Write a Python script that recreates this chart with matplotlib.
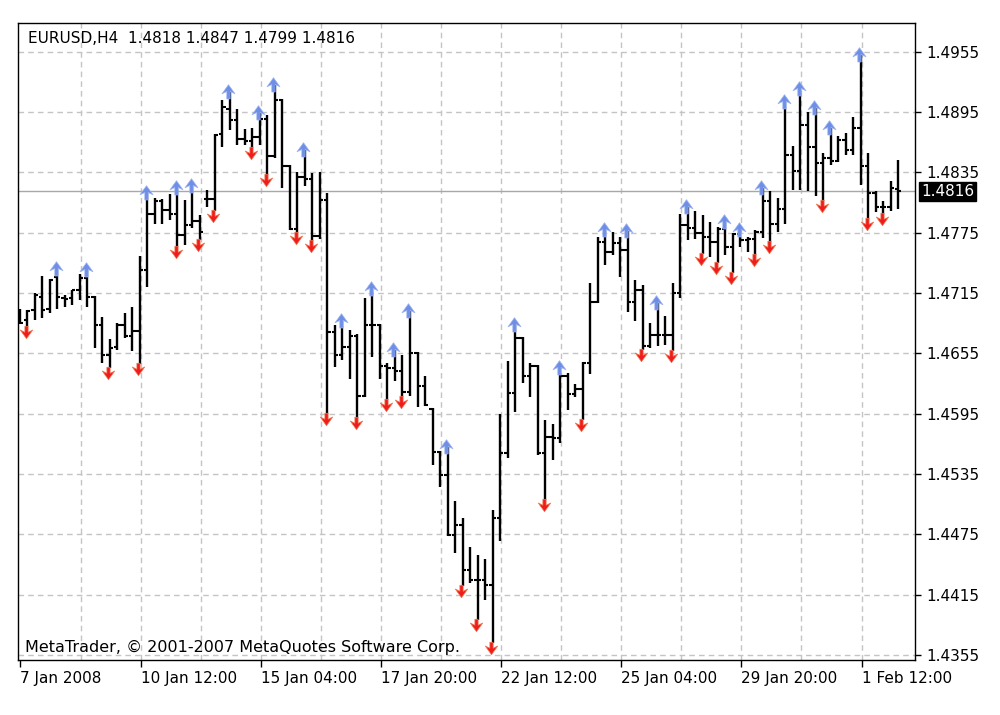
import numpy as np
import matplotlib
matplotlib.use("Agg")
import matplotlib.pyplot as plt
from matplotlib.path import Path
from matplotlib.markers import MarkerStyle
import matplotlib.transforms as mtransforms

# ---------------- data (EURUSD H4 bars) ----------------
opens = [1.4692, 1.4688, 1.4698, 1.4711, 1.4699, 1.4731, 1.4710, 1.4710, 1.4718, 1.4730,
         1.4711, 1.4683, 1.4653, 1.4661, 1.4683, 1.4672, 1.4677, 1.4738, 1.4794, 1.4806,
         1.4798, 1.4794, 1.4773, 1.4783, 1.4787, 1.4808, 1.4808, 1.4873, 1.4898, 1.4887,
         1.4868, 1.4866, 1.4870, 1.4888, 1.4851, 1.4907, 1.4841, 1.4779, 1.4830, 1.4828,
         1.4772, 1.4807, 1.4676, 1.4653, 1.4661, 1.4672, 1.4613, 1.4683, 1.4683, 1.4642,
         1.4640, 1.4637, 1.4617, 1.4655, 1.4622, 1.4600, 1.4557, 1.4534, 1.4474, 1.4484,
         1.4440, 1.4430, 1.4430, 1.4425, 1.4491, 1.4556, 1.4616, 1.4670, 1.4632, 1.4642,
         1.4556, 1.4572, 1.4571, 1.4632, 1.4615, 1.4620, 1.4645, 1.4706, 1.4766, 1.4756,
         1.4765, 1.4758, 1.4706, 1.4718, 1.4662, 1.4673, 1.4673, 1.4673, 1.4715, 1.4783,
         1.4780, 1.4775, 1.4771, 1.4766, 1.4779, 1.4761, 1.4774, 1.4768, 1.4769, 1.4776,
         1.4806, 1.4784, 1.4799, 1.4852, 1.4836, 1.4882, 1.4860, 1.4844, 1.4849, 1.4846,
         1.4867, 1.4857, 1.4879, 1.4841, 1.4814, 1.4801, 1.4801, 1.4818]
highs = [1.4699, 1.4698, 1.4715, 1.4732, 1.4729, 1.4739, 1.4713, 1.4718, 1.4734, 1.4738,
         1.4712, 1.4691, 1.4669, 1.4685, 1.4695, 1.4701, 1.4752, 1.4814, 1.4809, 1.4808,
         1.4813, 1.4819, 1.4807, 1.4821, 1.4793, 1.4817, 1.4873, 1.4907, 1.4915, 1.4898,
         1.4878, 1.4879, 1.4894, 1.4892, 1.4922, 1.4908, 1.4842, 1.4835, 1.4857, 1.4834,
         1.4835, 1.4814, 1.4683, 1.4687, 1.4678, 1.4674, 1.4710, 1.4719, 1.4684, 1.4645,
         1.4658, 1.4653, 1.4697, 1.4656, 1.4632, 1.4601, 1.4558, 1.4562, 1.4508, 1.4491,
         1.4462, 1.4454, 1.4450, 1.4499, 1.4595, 1.4647, 1.4683, 1.4671, 1.4645, 1.4643,
         1.4589, 1.4585, 1.4640, 1.4635, 1.4624, 1.4646, 1.4725, 1.4771, 1.4778, 1.4776,
         1.4771, 1.4777, 1.4728, 1.4723, 1.4685, 1.4705, 1.4692, 1.4725, 1.4794, 1.4801,
         1.4797, 1.4793, 1.4786, 1.4781, 1.4786, 1.4775, 1.4778, 1.4771, 1.4778, 1.4819,
         1.4816, 1.4809, 1.4905, 1.4861, 1.4918, 1.4895, 1.4899, 1.4854, 1.4879, 1.4871,
         1.4874, 1.4890, 1.4952, 1.4854, 1.4816, 1.4806, 1.4826, 1.4847]
lows = [1.4684, 1.4681, 1.4688, 1.4690, 1.4695, 1.4699, 1.4701, 1.4703, 1.4708, 1.4701,
        1.4660, 1.4645, 1.4640, 1.4658, 1.4670, 1.4657, 1.4644, 1.4721, 1.4784, 1.4784,
        1.4788, 1.4761, 1.4763, 1.4780, 1.4768, 1.4801, 1.4797, 1.4860, 1.4877, 1.4862,
        1.4862, 1.4859, 1.4862, 1.4832, 1.4849, 1.4819, 1.4778, 1.4775, 1.4821, 1.4767,
        1.4769, 1.4595, 1.4641, 1.4648, 1.4629, 1.4591, 1.4612, 1.4651, 1.4629, 1.4609,
        1.4627, 1.4612, 1.4613, 1.4602, 1.4603, 1.4544, 1.4522, 1.4473, 1.4456, 1.4424,
        1.4427, 1.4390, 1.4410, 1.4367, 1.4468, 1.4551, 1.4597, 1.4625, 1.4612, 1.4554,
        1.4509, 1.4549, 1.4566, 1.4599, 1.4612, 1.4589, 1.4634, 1.4705, 1.4743, 1.4753,
        1.4731, 1.4696, 1.4687, 1.4658, 1.4660, 1.4662, 1.4663, 1.4657, 1.4710, 1.4768,
        1.4769, 1.4754, 1.4751, 1.4745, 1.4753, 1.4735, 1.4761, 1.4756, 1.4753, 1.4770,
        1.4766, 1.4776, 1.4784, 1.4817, 1.4817, 1.4816, 1.4811, 1.4806, 1.4842, 1.4845,
        1.4852, 1.4852, 1.4822, 1.4789, 1.4796, 1.4794, 1.4797, 1.4799]
closes = [1.4685, 1.4697, 1.4713, 1.4698, 1.4728, 1.4711, 1.4709, 1.4718, 1.4730, 1.4711,
          1.4683, 1.4653, 1.4660, 1.4683, 1.4672, 1.4677, 1.4738, 1.4794, 1.4806, 1.4798,
          1.4794, 1.4773, 1.4783, 1.4787, 1.4776, 1.4808, 1.4872, 1.4900, 1.4887, 1.4868,
          1.4866, 1.4870, 1.4888, 1.4851, 1.4907, 1.4841, 1.4779, 1.4830, 1.4828, 1.4772,
          1.4807, 1.4676, 1.4653, 1.4661, 1.4672, 1.4613, 1.4683, 1.4683, 1.4642, 1.4640,
          1.4637, 1.4617, 1.4655, 1.4622, 1.4604, 1.4557, 1.4534, 1.4474, 1.4484, 1.4440,
          1.4430, 1.4430, 1.4425, 1.4491, 1.4556, 1.4616, 1.4670, 1.4632, 1.4642, 1.4556,
          1.4572, 1.4571, 1.4632, 1.4615, 1.4620, 1.4645, 1.4706, 1.4766, 1.4756, 1.4765,
          1.4758, 1.4706, 1.4718, 1.4662, 1.4673, 1.4673, 1.4673, 1.4715, 1.4783, 1.4780,
          1.4775, 1.4771, 1.4766, 1.4779, 1.4761, 1.4774, 1.4768, 1.4769, 1.4776, 1.4806,
          1.4784, 1.4799, 1.4852, 1.4836, 1.4882, 1.4860, 1.4844, 1.4849, 1.4846, 1.4867,
          1.4857, 1.4879, 1.4841, 1.4814, 1.4801, 1.4801, 1.4819, 1.4816]

# fractal bars (1-based bar numbers)
fractal_up = [6, 10, 18, 22, 24, 29, 33, 35, 39, 44, 48, 51, 53, 58, 67, 73, 79, 82,
              86, 90, 95, 97, 100, 103, 105, 107, 109, 113]
fractal_down = [2, 13, 17, 22, 25, 27, 32, 34, 38, 40, 42, 46, 50, 52, 60, 62, 64, 71,
                76, 84, 88, 92, 94, 96, 99, 101, 108, 114, 116]

price_levels = [1.4355, 1.4415, 1.4475, 1.4535, 1.4595, 1.4655, 1.4715, 1.4775,
                1.4835, 1.4895, 1.4955]
time_tick_bars = [0, 16, 32, 48, 64, 80, 96, 112]
time_tick_labels = ["7 Jan 2008", "10 Jan 12:00", "15 Jan 04:00", "17 Jan 20:00",
                    "22 Jan 12:00", "25 Jan 04:00", "29 Jan 20:00", "1 Feb 12:00"]
grid_bars = [8, 16, 24, 32, 40, 48, 56, 64, 72, 80, 88, 96, 104, 112]
current_price = 1.4816
title_text = "EURUSD,H4  1.4818 1.4847 1.4799 1.4816"
copyright_text = "MetaTrader, \u00a9 2001-2007 MetaQuotes Software Corp."

# ---------------- figure ----------------
plt.rcParams['font.family'] = ['DejaVu Sans']
fig = plt.figure(figsize=(10, 7.15), dpi=100)
W, H = 1000, 715
ax = fig.add_axes([18 / W, 1 - 660 / H, (915 - 18) / W, (660 - 23) / H])
ax.set_xlim(-0.2, 119.25)
ax.set_ylim(1.4350, 1.49835)

x = np.arange(len(opens))
o = np.array(opens); h = np.array(highs); l = np.array(lows); c = np.array(closes)

# grid
grid_col = '#c4c4c4'
for lv in price_levels:
    ax.axhline(lv, color=grid_col, lw=1.0, dashes=(4, 3), zorder=0)
for gb in grid_bars:
    ax.axvline(gb + 0.13, color=grid_col, lw=1.0, dashes=(4, 3), zorder=0)

# current price line
ax.axhline(current_price, color='#a8a8a8', lw=1.0, zorder=1)

# bars
ax.vlines(x, l, h, color='black', lw=1.7, zorder=3)
ax.hlines(o, x - 0.45, x, color='black', lw=1.5, zorder=3)
ax.hlines(c, x, x + 0.45, color='black', lw=1.5, zorder=3)

# fractal arrows
up_verts = [(0, 6), (5, -1), (1.3, 0.8), (1.3, -5), (-1.3, -5), (-1.3, 0.8), (-5, -1), (0, 6)]
up_path = Path(up_verts, [Path.MOVETO] + [Path.LINETO] * 6 + [Path.CLOSEPOLY])
dn_verts = [(0, -9), (5, -2), (1.3, -3.8), (1.3, 1), (-1.3, 1), (-1.3, -3.8), (-5, -2), (0, -9)]
dn_path = Path(dn_verts, [Path.MOVETO] + [Path.LINETO] * 6 + [Path.CLOSEPOLY])

ui = np.array(fractal_up) - 1
di = np.array(fractal_down) - 1
ax.scatter(ui - 0.2, h[ui], marker=MarkerStyle(up_path), s=(1.3 * 2 * 6 / 1.389) ** 2,
           color='#6f8fe6', edgecolors='#9db4f0', linewidths=0.5, zorder=4)
ax.scatter(di - 0.2, l[di], marker=MarkerStyle(dn_path), s=(1.25 * 2 * 9 / 1.389) ** 2,
           color='#ee1c1c', edgecolors='#f07a50', linewidths=0.5, zorder=4)

# axes styling
for sp in ax.spines.values():
    sp.set_color('black')
    sp.set_linewidth(1.0)
ax.yaxis.tick_right()
ax.set_yticks(price_levels)
ax.set_yticklabels([f"{v:.4f}" for v in price_levels])
ax.tick_params(axis='y', direction='out', length=4, width=1, labelsize=11, pad=4,
               colors='black')
ax.set_xticks([b + 0.13 for b in time_tick_bars])
ax.set_xticklabels(time_tick_labels)
for lab in ax.get_xticklabels():
    lab.set_horizontalalignment('left')
ax.tick_params(axis='x', direction='out', length=5, width=1, labelsize=11, pad=3)

# current price label box
trans = mtransforms.blended_transform_factory(ax.transAxes, ax.transData)
ax.text(1.007, current_price, f"{current_price:.4f}", transform=trans, color='white',
        fontsize=11, va='center', ha='left', zorder=5,
        bbox=dict(boxstyle='square,pad=0.12', fc='black', ec='black'))

# title and copyright
ax.text(0.011, 0.976, title_text, transform=ax.transAxes, fontsize=11, va='center',
        ha='left', color='black')
ax.text(0.008, 0.019, copyright_text, transform=ax.transAxes, fontsize=11.5, va='center',
        ha='left', color='black')

fig.savefig('out.png', dpi=100, facecolor='white')
